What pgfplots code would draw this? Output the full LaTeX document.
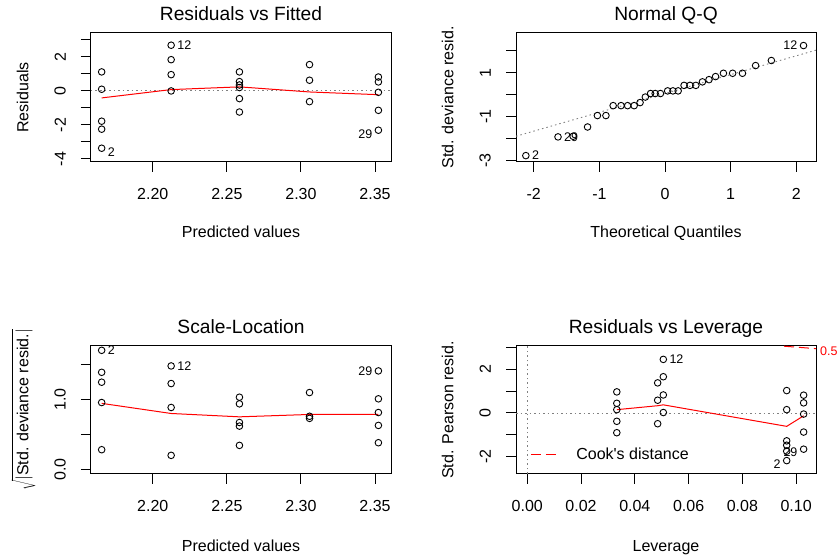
\documentclass[border=0pt]{standalone}
\usepackage{fontspec}
\setmainfont{Liberation Sans}
\usepackage{pgfplots}
\pgfplotsset{compat=1.18}

\newcommand\idfont{\fontsize{12.5}{14}\selectfont}
\newcommand\lbfont{\fontsize{16}{18}\selectfont}

\pgfplotsset{
  rdiag/.style={
    scale only axis, width=300pt, height=129pt,
    anchor=south west,
    axis line style={line width=1pt},
    tick align=outside, major tick length=10pt,
    tick style={line width=1pt, black},
    tick pos=left,
    tick label style={font=\lbfont, inner sep=0pt},
    xticklabel style={anchor=north},
    yticklabel style={rotate=90, anchor=south},
    xticklabel shift=16pt, yticklabel shift=15pt,
    title style={font=\fontsize{19.2}{22}\selectfont, at={(axis description cs:0.5,1.054)}, anchor=base},
    label style={font=\lbfont},
    xlabel style={at={(axis description cs:0.5,-0.587)}, anchor=base},
    ylabel style={at={(axis description cs:-0.209,0.5)}, anchor=base},
    every axis plot/.append style={line width=1pt},
  },
  pts/.style={only marks, mark=o, mark size=3.3pt, black, mark options={line width=0.9pt}, forget plot},
  smooth red/.style={red, line width=1pt, forget plot},
  refline/.style={gray, line width=0.9pt, dash pattern=on 1.5pt off 3pt, forget plot},
}

\begin{document}
\begin{tikzpicture}
\path[use as bounding box] (0,0) rectangle (838pt,556pt);

% Residuals vs Fitted
\begin{axis}[rdiag, at={(91pt,394pt)},
  title={Residuals vs Fitted}, xlabel={Predicted values}, ylabel={Residuals},
  xmin=2.1583, xmax=2.3608, ymin=-4.18, ymax=3.41,
  xtick={2.20,2.25,2.30,2.35}, xticklabels={2.20,2.25,2.30,2.35},
  ytick={-4,-3,...,3}, yticklabels={-4,,-2,,0,,2,}]
\addplot[refline] coordinates {(2.1583,0)(2.3608,0)};
\addplot[smooth red] coordinates {(2.1655,-0.41)(2.2124,0.08)(2.2585,0.24)(2.3058,-0.06)(2.3523,-0.22)};
\addplot[pts] coordinates {
  (2.1655,1.12)(2.1655,0.10)(2.1655,-1.78)(2.1655,-2.25)(2.1655,-3.37)
  (2.2124,2.69)(2.2124,1.84)(2.2124,0.96)(2.2124,0.0)
  (2.2585,1.12)(2.2585,0.55)(2.2585,0.35)(2.2585,0.2)(2.2585,-0.45)(2.2585,-1.24)
  (2.3058,1.55)(2.3058,0.63)(2.3058,-0.63)
  (2.3523,0.82)(2.3523,0.53)(2.3523,-0.08)(2.3523,-1.14)(2.3523,-2.31)};
\node[font=\idfont, inner sep=0pt, anchor=west, xshift=6pt] at (axis cs:2.2124,2.69) {12};
\node[font=\idfont, inner sep=0pt, anchor=west, xshift=6pt, yshift=-3.5pt] at (axis cs:2.1655,-3.37) {2};
\node[font=\idfont, inner sep=0pt, anchor=east, xshift=-6pt, yshift=-3.5pt] at (axis cs:2.3523,-2.31) {29};
\end{axis}

% Normal Q-Q
\begin{axis}[rdiag, at={(516pt,394pt)},
  title={Normal Q-Q}, xlabel={Theoretical Quantiles}, ylabel={Std. deviance resid.},
  xmin=-2.27, xmax=2.30, ymin=-3.06, ymax=2.80,
  xtick={-2,-1,0,1,2}, xticklabels={-2,-1,0,1,2},
  ytick={-3,-2,...,2}, yticklabels={-3,,-1,,1,}]
\addplot[refline] coordinates {(-2.27,-1.89)(2.30,2.02)};
\addplot[pts] coordinates {
  (-2.12,-2.77)(-1.63,-1.92)(-1.40,-1.89)(-1.18,-1.47)(-1.03,-0.95)(-0.90,-0.95)
  (-0.79,-0.50)(-0.67,-0.50)(-0.57,-0.50)(-0.47,-0.50)(-0.38,-0.36)(-0.30,-0.11)
  (-0.22,0.05)(-0.15,0.05)(-0.07,0.05)(0.04,0.17)(0.12,0.17)(0.20,0.17)
  (0.29,0.42)(0.38,0.42)(0.47,0.42)(0.57,0.58)(0.67,0.68)(0.77,0.82)
  (0.89,0.97)(1.03,0.97)(1.18,0.97)(1.38,1.32)(1.62,1.55)(2.11,2.23)};
\node[font=\idfont, inner sep=0pt, anchor=east, xshift=-6pt] at (axis cs:2.11,2.23) {12};
\node[font=\idfont, inner sep=0pt, anchor=west, xshift=6pt] at (axis cs:-1.63,-1.92) {29};
\node[font=\idfont, inner sep=0pt, anchor=west, xshift=6pt] at (axis cs:-2.12,-2.77) {2};
\end{axis}

% Scale-Location
\begin{axis}[rdiag, at={(91pt,82pt)}, height=128pt,
  title={Scale-Location}, xlabel={Predicted values}, ylabel={$\sqrt{|\mbox{Std. deviance resid.}|}$},
  xlabel style={at={(axis description cs:0.5,-0.607)}},
  xmin=2.1583, xmax=2.3608, ymin=-0.067, ymax=1.767,
  xtick={2.20,2.25,2.30,2.35}, xticklabels={2.20,2.25,2.30,2.35},
  ytick={0,0.5,1,1.5}, yticklabels={0.0,,1.0,}]
\addplot[smooth red] coordinates {(2.1655,0.945)(2.2124,0.80)(2.2585,0.752)(2.3058,0.786)(2.3523,0.786)};
\addplot[pts] coordinates {
  (2.1655,1.705)(2.1655,1.39)(2.1655,1.248)(2.1655,0.957)(2.1655,0.281)
  (2.2124,1.481)(2.2124,1.229)(2.2124,0.886)(2.2124,0.2)
  (2.2585,1.033)(2.2585,0.938)(2.2585,0.671)(2.2585,0.619)(2.2585,0.343)
  (2.3058,1.10)(2.3058,0.76)(2.3058,0.73)
  (2.3523,1.41)(2.3523,1.01)(2.3523,0.814)(2.3523,0.629)(2.3523,0.381)};
\node[font=\idfont, inner sep=0pt, anchor=west, xshift=6pt] at (axis cs:2.1655,1.705) {2};
\node[font=\idfont, inner sep=0pt, anchor=west, xshift=6pt] at (axis cs:2.2124,1.481) {12};
\node[font=\idfont, inner sep=0pt, anchor=east, xshift=-6pt] at (axis cs:2.3523,1.41) {29};
\end{axis}

% Residuals vs Leverage
\begin{axis}[rdiag, at={(516pt,82pt)}, height=128pt, clip=false,
  title={Residuals vs Leverage}, xlabel={Leverage}, ylabel={Std. Pearson resid.},
  xlabel style={at={(axis description cs:0.5,-0.607)}},
  xmin=-0.0042, xmax=0.1074, ymin=-2.78, ymax=3.05,
  xtick={0,0.02,0.04,0.06,0.08,0.10}, xticklabels={0.00,0.02,0.04,0.06,0.08,0.10},
  ytick={-2,-1,...,3}, yticklabels={-2,,0,,2,},
  legend style={draw=none, fill=none, at={(axis description cs:0.037,0.15)}, anchor=west,
    font=\lbfont, legend cell align=left},
  legend image code/.code={\draw[#1] (0pt,0pt) -- (27pt,0pt); \path (43pt,0pt);}]
\addplot[refline] coordinates {(-0.0042,0)(0.1074,0)};
\addplot[refline] coordinates {(0,-2.78)(0,3.05)};
\addplot[smooth red] coordinates {(0.0333,0.15)(0.0485,0.33)(0.0506,0.37)(0.0965,-0.61)(0.1028,-0.13)};
\addplot[pts] coordinates {
  (0.0333,0.96)(0.0333,0.44)(0.0333,0.15)(0.0333,-0.38)(0.0333,-0.90)
  (0.0485,1.37)(0.0485,0.58)(0.0485,-0.49)
  (0.0506,2.44)(0.0506,1.65)(0.0506,0.82)(0.0506,0.02)
  (0.0965,1.02)(0.0965,0.15)(0.0965,-1.27)(0.0965,-1.47)(0.0965,-1.74)(0.0965,-2.17)
  (0.1028,0.81)(0.1028,0.46)(0.1028,-0.05)(0.1028,-0.87)(0.1028,-1.65)};
\addplot[red, line width=1pt, dash pattern=on 10pt off 5pt] coordinates {(0.0955,3.04)(0.1074,2.93)};
\addlegendentry{Cook\textquotesingle s distance}
\node[font=\idfont, inner sep=0pt, anchor=west, xshift=6pt] at (axis cs:0.0506,2.44) {12};
\node[font=\idfont, inner sep=0pt, anchor=east, xshift=-6pt, yshift=-3.5pt] at (axis cs:0.1028,-1.65) {29};
\node[font=\idfont, inner sep=0pt, anchor=east, xshift=-6pt, yshift=-3.5pt] at (axis cs:0.0965,-2.17) {2};
\node[font=\idfont, text=red, inner sep=0pt, anchor=west, xshift=4pt] at (axis cs:0.1074,2.82) {0.5};
\end{axis}
\end{tikzpicture}
\end{document}
